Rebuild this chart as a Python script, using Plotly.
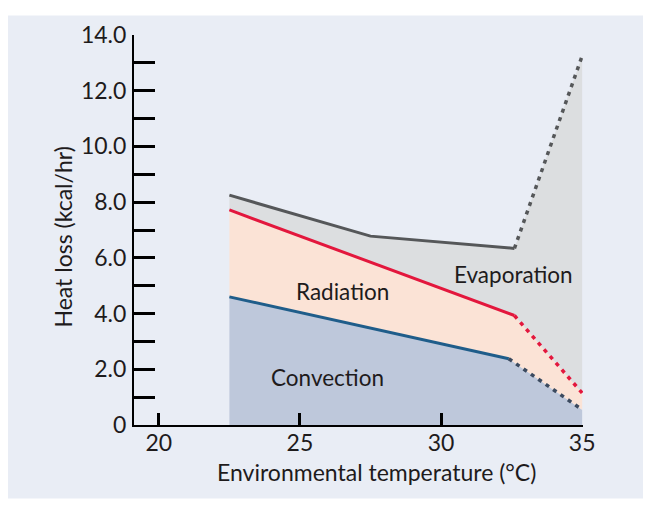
import plotly.graph_objects as go

# ---- data ----
temp_conv = [22.5, 32.4, 35.0]
conv_top = [4.6, 2.38, 0.55]

temp_rad = [22.5, 32.6, 35.0]
rad_top = [7.72, 3.93, 1.15]

temp_evap = [22.5, 27.5, 32.6, 35.0]
evap_top = [8.25, 6.78, 6.34, 13.25]

x_tick_vals = [20, 25, 30, 35]
x_tick_text = ["20", "25", "30", "35"]
y_tick_vals = list(range(0, 15))
y_tick_text = ["0", "", "2.0", "", "4.0", "", "6.0", "", "8.0", "", "10.0", "", "12.0", "", "14.0"]

labels = ["Convection", "Radiation", "Evaporation"]
label_x = [25.97, 26.52, 32.58]
label_y = [1.69, 4.78, 5.42]

x_title = "Environmental temperature (°C)"
y_title = "Heat loss (kcal/hr)"

# ---- styles ----
FONT = "Lato"
TXT = "#1e1b1c"
BG = "#e9edf5"
fill_conv = "#bec8db"
fill_rad = "#fbe3d6"
fill_evap = "#dcdee0"
col_conv = "#1f5d8a"
col_conv_dot = "#3b4a5f"
col_rad = "#e3173d"
col_evap = "#555759"
DOT = "4px,5px"

fig = go.Figure()

# fills
fig.add_trace(go.Scatter(x=temp_conv, y=conv_top, mode="lines", line=dict(width=0),
                         fill="tozeroy", fillcolor=fill_conv, hoverinfo="skip", showlegend=False))
fig.add_trace(go.Scatter(x=temp_rad, y=rad_top, mode="lines", line=dict(width=0),
                         fill="tonexty", fillcolor=fill_rad, hoverinfo="skip", showlegend=False))
fig.add_trace(go.Scatter(x=temp_evap, y=evap_top, mode="lines", line=dict(width=0),
                         fill="tonexty", fillcolor=fill_evap, hoverinfo="skip", showlegend=False))

# lines: solid part then dotted last segment
def add_line(xs, ys, color, dotcolor):
    fig.add_trace(go.Scatter(x=xs[:-1], y=ys[:-1], mode="lines",
                             line=dict(color=color, width=3), showlegend=False, hoverinfo="skip"))
    fig.add_trace(go.Scatter(x=xs[-2:], y=ys[-2:], mode="lines",
                             line=dict(color=dotcolor, width=3.5, dash=DOT), showlegend=False, hoverinfo="skip"))

add_line(temp_conv, conv_top, col_conv, col_conv_dot)
add_line(temp_rad, rad_top, col_rad, col_rad)
add_line(temp_evap, evap_top, col_evap, col_evap)

for t, lx, ly in zip(labels, label_x, label_y):
    fig.add_annotation(x=lx, y=ly, text=t, showarrow=False,
                       font=dict(family=FONT, size=22.5, color=TXT))

# axis titles as positioned annotations
fig.add_annotation(xref="paper", yref="paper", x=0.541, y=-0.1206, text=x_title,
                   showarrow=False, xanchor="center", yanchor="middle",
                   font=dict(family=FONT, size=23, color=TXT))
fig.add_annotation(xref="paper", yref="paper", x=-0.157, y=0.482, text=y_title,
                   showarrow=False, xanchor="center", yanchor="middle", textangle=-90,
                   font=dict(family=FONT, size=23, color=TXT))

# background panel with white border
fig.add_shape(type="rect", xref="paper", yref="paper",
              x0=-0.2829, x1=1.138, y0=-0.1884, y1=1.0503,
              fillcolor=BG, line=dict(width=0), layer="below")

# page body adds an 8px margin, so the figure is 8px smaller and margins shifted
fig.update_layout(
    width=643, height=498,
    margin=dict(l=126, r=68, t=19, b=81),
    paper_bgcolor="white",
    plot_bgcolor="rgba(0,0,0,0)",
    font=dict(family=FONT, size=23, color=TXT),
    xaxis=dict(range=[19.12, 35.03], tickvals=x_tick_vals, ticktext=x_tick_text,
               ticks="inside", ticklen=12, tickwidth=2.5, tickcolor="black",
               showline=True, linecolor="black", linewidth=2,
               showgrid=False, zeroline=False, ticklabelstandoff=-4,
               tickfont=dict(family=FONT, size=23, color=TXT)),
    yaxis=dict(range=[0, 14.0], tickvals=y_tick_vals, ticktext=y_tick_text,
               ticks="inside", ticklen=21, tickwidth=3, tickcolor="black",
               showline=True, linecolor="black", linewidth=2,
               showgrid=False, zeroline=False, ticklabelstandoff=1,
               tickfont=dict(family=FONT, size=23, color=TXT)),
)

fig.write_html("out.html")
